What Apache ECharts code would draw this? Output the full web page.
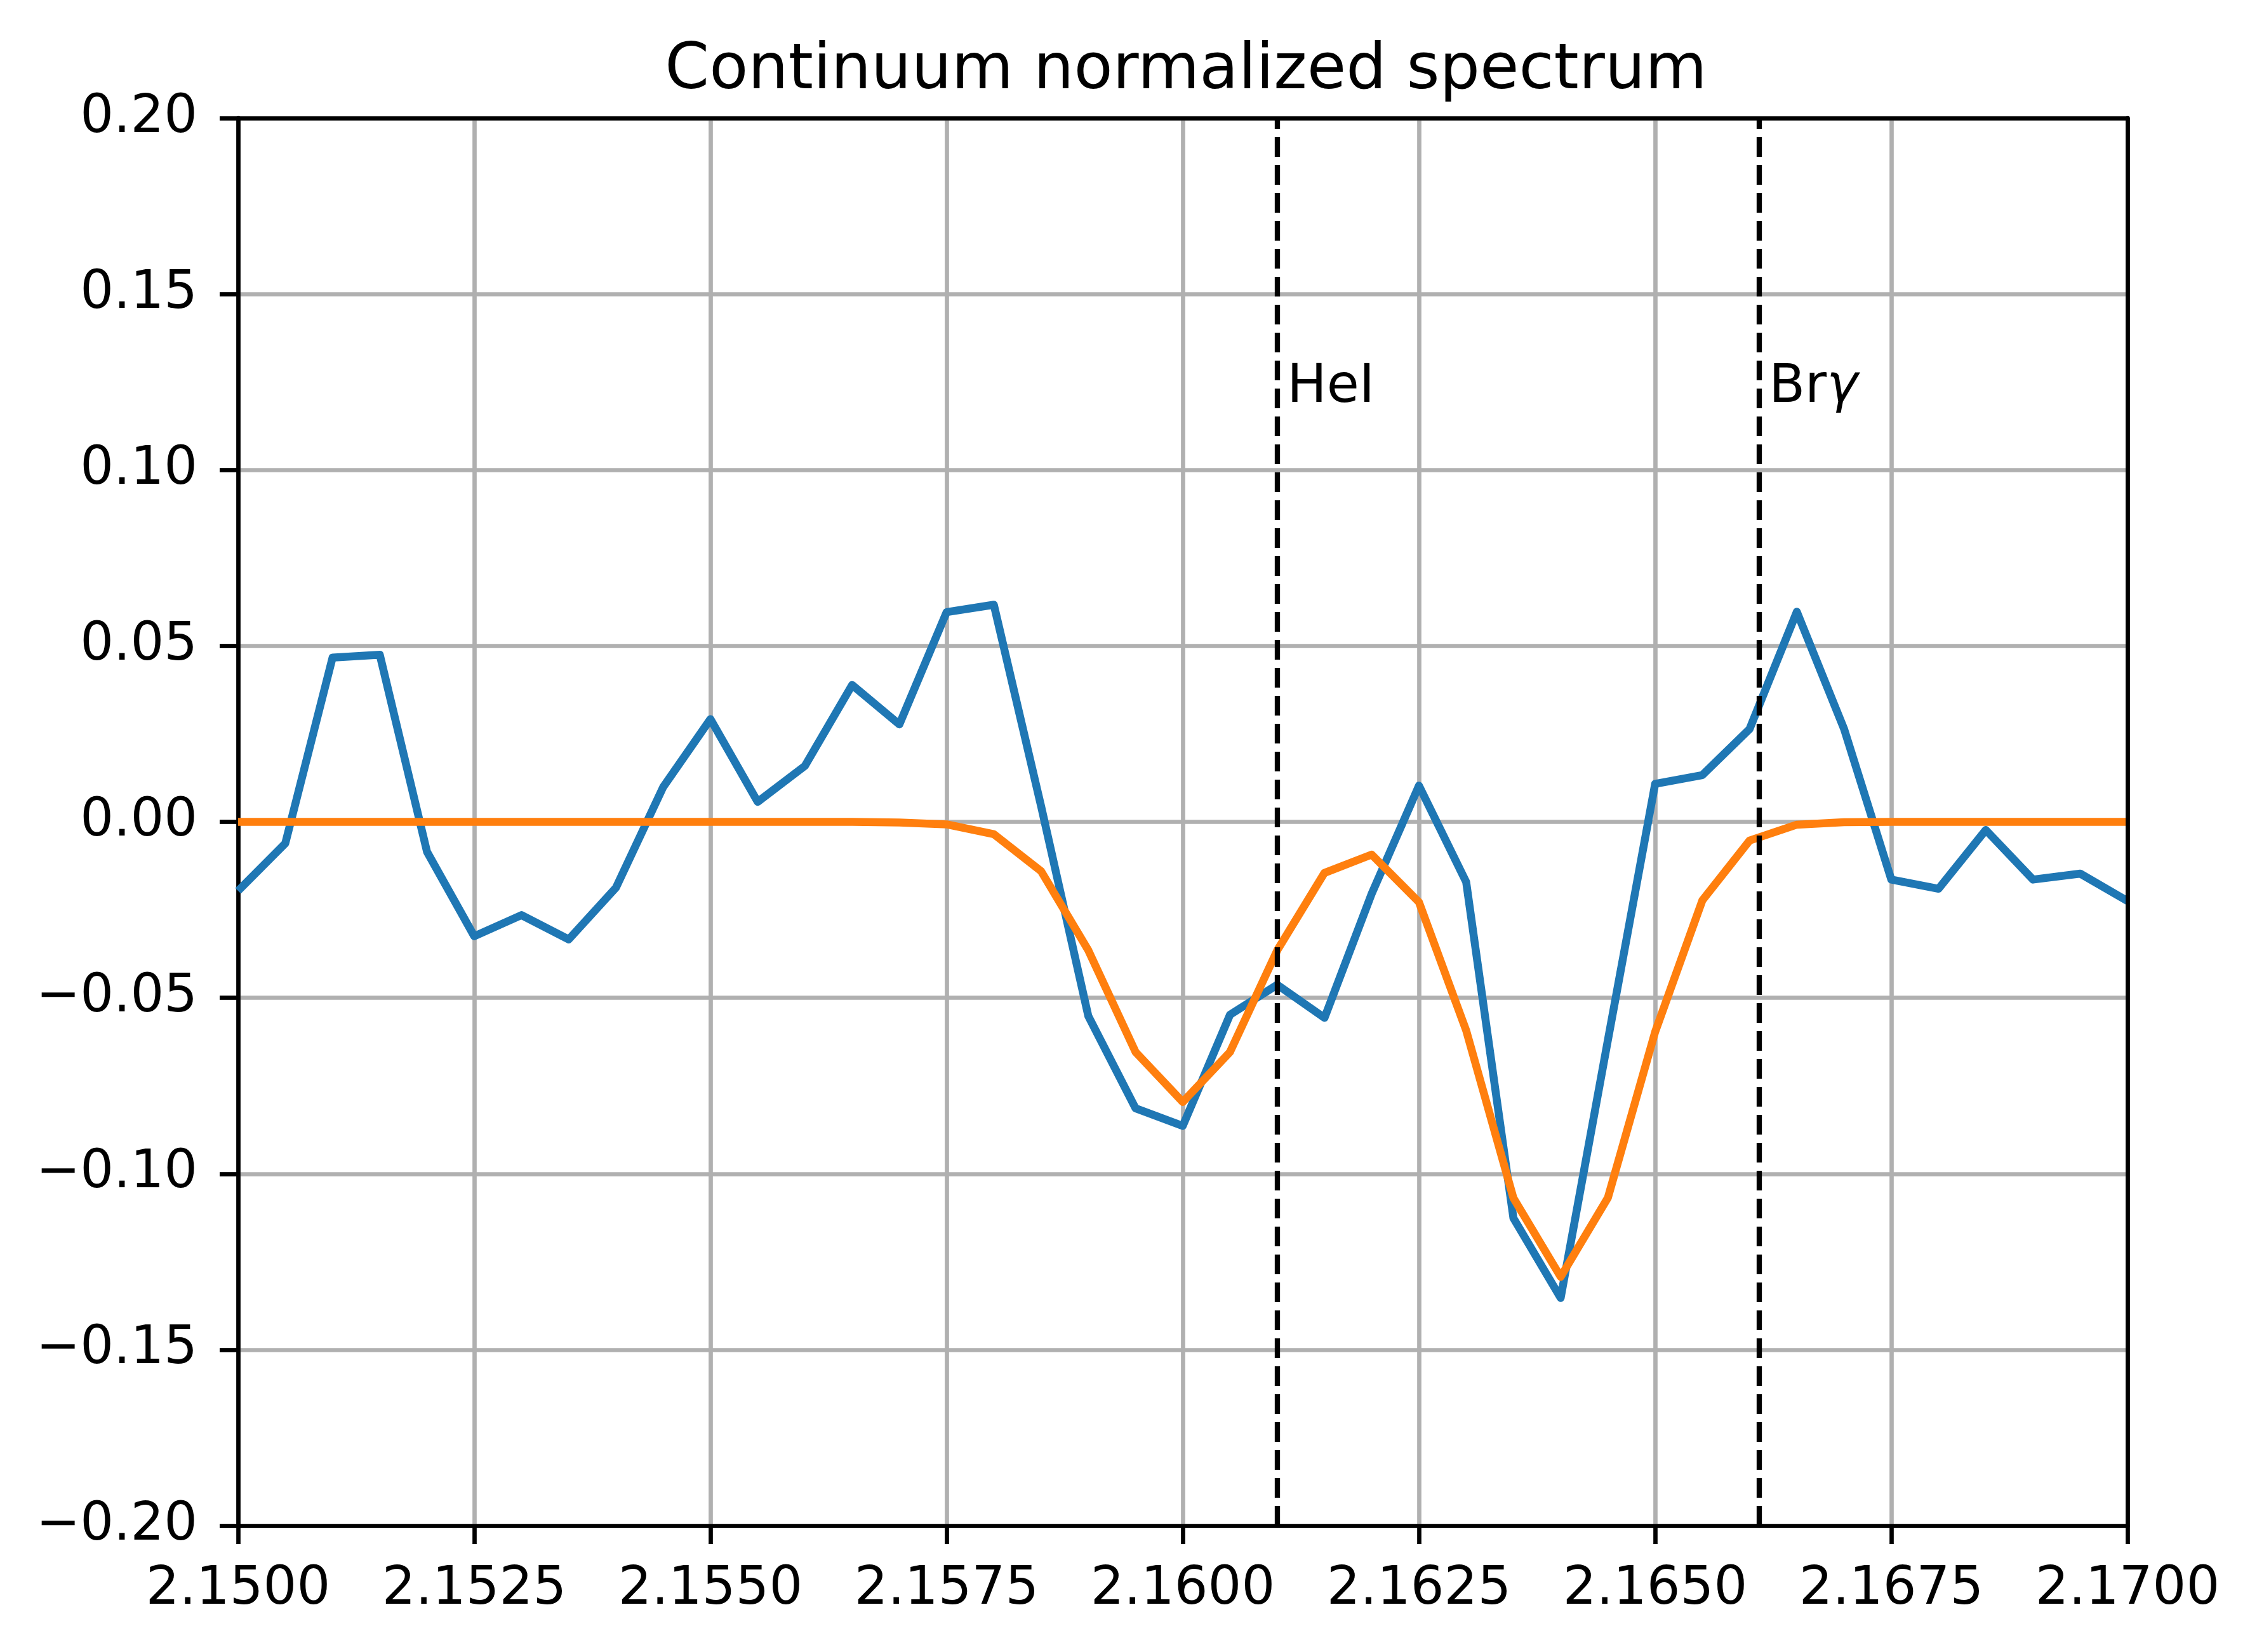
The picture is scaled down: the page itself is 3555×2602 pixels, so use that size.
<!DOCTYPE html>
<html>
<head>
<meta charset="utf-8">
<script src="https://cdn.jsdelivr.net/npm/echarts@6/dist/echarts.min.js"></script>
<style>
html,body{margin:0;padding:0;background:#fff;}
#chart{width:3555px;height:2602px;}
</style>
</head>
<body>
<div id="chart"></div>
<script>
const titleText = 'Continuum normalized spectrum';
const wavelengths = [
  2.1500, 2.1505, 2.1510, 2.1515, 2.1520, 2.1525, 2.1530, 2.1535, 2.1540, 2.1545,
  2.1550, 2.1555, 2.1560, 2.1565, 2.1570, 2.1575, 2.1580, 2.1585, 2.1590, 2.1595,
  2.1600, 2.1605, 2.1610, 2.1615, 2.1620, 2.1625, 2.1630, 2.1635, 2.1640, 2.1645,
  2.1650, 2.1655, 2.1660, 2.1665, 2.1670, 2.1675, 2.1680, 2.1685, 2.1690, 2.1695,
  2.1700
];
const observed = [
  -0.0196, -0.0061, 0.0467, 0.0475, -0.0085, -0.0325, -0.0265, -0.0334, -0.0187, 0.0099,
  0.0292, 0.0057, 0.0159, 0.0389, 0.0277, 0.0596, 0.0617, 0.0045, -0.0552, -0.0814,
  -0.0864, -0.0548, -0.0463, -0.0557, -0.0204, 0.0103, -0.0171, -0.1126, -0.1353, -0.0620,
  0.0108, 0.0133, 0.0264, 0.0597, 0.0264, -0.0164, -0.0190, -0.0023, -0.0164, -0.0147,
  -0.0225
];
const model = [
  0, 0, 0, 0, 0, 0, 0, 0, 0, 0,
  0, 0, 0, 0, -0.0002, -0.0007, -0.0035, -0.0140, -0.0365, -0.0654,
  -0.0796, -0.0654, -0.0365, -0.0145, -0.0093, -0.0228, -0.0593, -0.1069, -0.1293, -0.1068,
  -0.0597, -0.0223, -0.0053, -0.0008, -0.0001, 0, 0, 0, 0, 0,
  0
];
const lineNames = ['HeI', 'Brγ'];
const lineWaves = [2.1610, 2.1661];
const lineLabelY = 0.12;
const xMin = 2.15, xMax = 2.17, xStep = 0.0025;
const yMin = -0.2, yMax = 0.2, yStep = 0.05;

const FONT = 'DejaVu Sans';
const chart = echarts.init(document.getElementById('chart'), null, {width: 3555, height: 2602});

const pairs = (xs, ys) => xs.map((x, i) => [x, ys[i]]);
const annotData = lineWaves.map((w, i) => ({value: [w, lineLabelY], name: lineNames[i]}));

const spine = {show: true, onZero: false, lineStyle: {color: '#000', width: 6.7}};
const tick = {show: true, inside: false, length: 29, lineStyle: {color: '#000', width: 6.7}};
const grid = {show: true, lineStyle: {color: '#b0b0b0', width: 6.7}};

chart.setOption({
  animation: false,
  backgroundColor: '#ffffff',
  title: {
    text: titleText,
    left: 1863,
    top: 58,
    textAlign: 'center',
    textStyle: {fontFamily: FONT, fontSize: 100, fontWeight: 'normal', color: '#000'}
  },
  grid: {left: 375, right: 204, top: 186, bottom: 199, containLabel: false},
  xAxis: [
    {
      type: 'value', min: xMin, max: xMax, interval: xStep, position: 'bottom', z: 0,
      axisLine: spine, axisTick: tick, splitLine: grid,
      axisLabel: {
        margin: 60, color: '#000', fontFamily: FONT, fontSize: 83,
        formatter: v => v.toFixed(4)
      }
    },
    {
      type: 'value', min: xMin, max: xMax, interval: xStep, position: 'top', z: 10,
      axisLine: spine, axisTick: {show: false}, axisLabel: {show: false}, splitLine: {show: false}
    }
  ],
  yAxis: [
    {
      type: 'value', min: yMin, max: yMax, interval: yStep, position: 'left', z: 0,
      axisLine: spine, axisTick: tick, splitLine: grid,
      axisLabel: {
        margin: 64, color: '#000', fontFamily: FONT, fontSize: 83,
        formatter: v => (v < -1e-9 ? '\u2212' : '') + Math.abs(v).toFixed(2)
      }
    },
    {
      type: 'value', min: yMin, max: yMax, interval: yStep, position: 'right', z: 10,
      axisLine: spine, axisTick: {show: false}, axisLabel: {show: false}, splitLine: {show: false}
    }
  ],
  series: [
    {
      name: 'observed', type: 'line', data: pairs(wavelengths, observed),
      showSymbol: false, symbol: 'none', z: 3,
      lineStyle: {color: '#1f77b4', width: 12.5, join: 'round', cap: 'butt'}
    },
    {
      name: 'model', type: 'line', data: pairs(wavelengths, model),
      showSymbol: false, symbol: 'none', z: 4,
      lineStyle: {color: '#ff7f0e', width: 12.5, join: 'round', cap: 'butt'}
    },
    {
      name: 'lines', type: 'scatter', data: annotData, z: 5,
      symbolSize: 1, itemStyle: {color: 'rgba(0,0,0,0)', opacity: 1},
      label: {
        show: true, position: 'right', distance: 15, offset: [0, -18],
        fontFamily: FONT, fontSize: 83, color: '#000', opacity: 1,
        formatter: p => p.name === 'Brγ' ? '{a|Br}{g|γ}' : '{a|' + p.name + '}',
        rich: {
          a: {fontFamily: FONT, fontSize: 83, color: '#000'},
          g: {fontFamily: FONT, fontSize: 83, color: '#000', fontStyle: 'italic'}
        }
      },
      markLine: {
        silent: true, symbol: ['none', 'none'], animation: false, precision: 6,
        label: {show: false},
        lineStyle: {color: '#000', width: 8.3, type: [31, 13], opacity: 1},
        data: lineWaves.map(w => ({xAxis: w}))
      }
    }
  ]
});
</script>
</body>
</html>
